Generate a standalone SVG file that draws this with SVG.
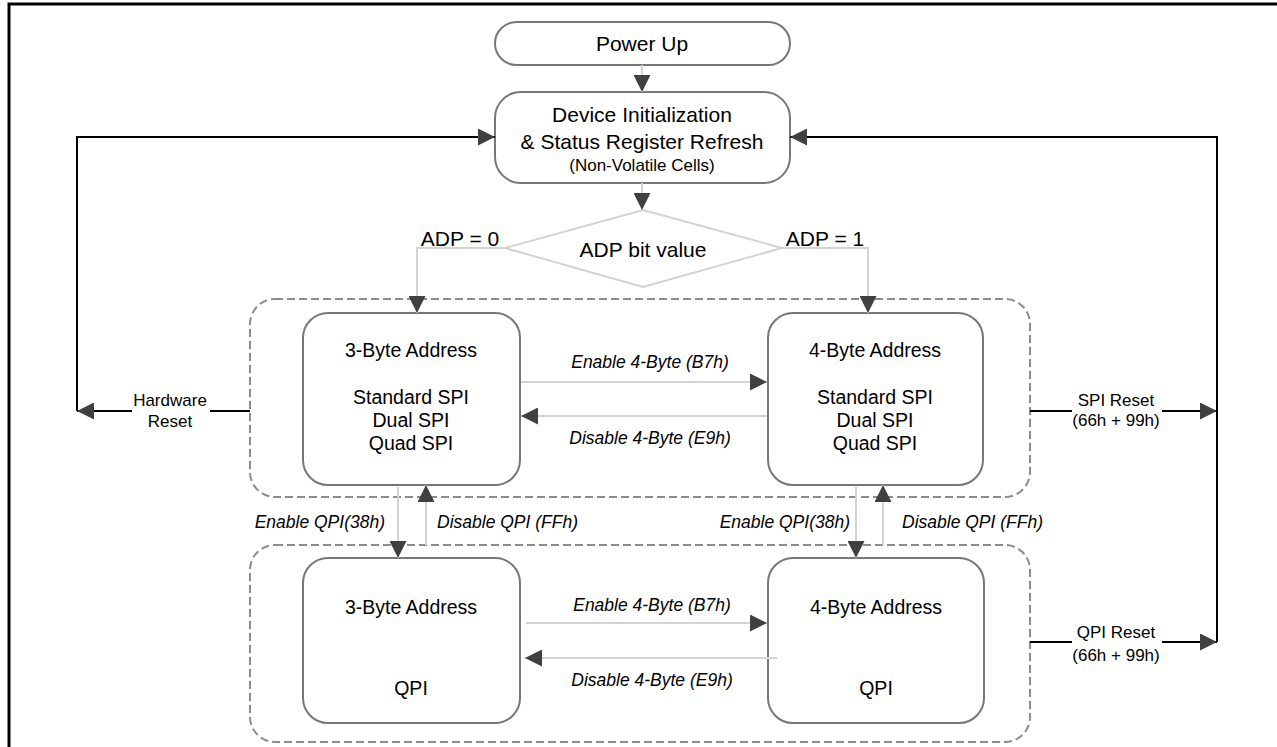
<svg xmlns="http://www.w3.org/2000/svg" width="1277" height="747" viewBox="0 0 1277 747">
<style>
text{font-family:"Liberation Sans",Arial,sans-serif;fill:#000;text-anchor:middle}
.t21{font-size:21px}
.tb{font-size:19.5px}
.t17{font-size:17px}
.it{font-size:17.5px;font-style:italic}
.box{fill:#fff;stroke:#777;stroke-width:2}
.dash{fill:none;stroke:#8c8c8c;stroke-width:2;stroke-dasharray:8 4}
.gl{fill:none;stroke:#d3d3d3;stroke-width:2}
.bl{fill:none;stroke:#000;stroke-width:2}
</style>
<defs>
<marker id="ah" markerUnits="userSpaceOnUse" viewBox="0 0 16 16" refX="16" refY="8" markerWidth="17" markerHeight="17" orient="auto">
<path d="M0,0 L16,8 L0,16 z" fill="#404040"/>
</marker>
</defs>
<rect width="1277" height="747" fill="#fff"/>
<path d="M9,747 V4 H1277" fill="none" stroke="#000" stroke-width="3"/>
<g id="container-spi"><rect class="dash" x="250" y="299" width="780" height="198" rx="25"/></g>
<g id="container-qpi"><rect class="dash" x="250" y="545" width="780" height="197" rx="25"/></g>
<g id="power-up">
<rect class="box" x="495" y="22" width="295" height="43" rx="21.5"/>
<text class="t21" x="642" y="51">Power Up</text>
</g>
<g id="device-init">
<rect class="box" x="495" y="92" width="295" height="91" rx="26"/>
<text class="t21" x="642" y="122">Device Initialization</text>
<text class="t21" x="642" y="149">&amp; Status Register Refresh</text>
<text class="t17" x="642" y="171">(Non-Volatile Cells)</text>
</g>
<g id="adp-decision">
<polygon points="643,210 782,248 643,287 505,248" fill="#fff" stroke="#d3d3d3" stroke-width="2"/>
<text class="t21" x="643" y="257">ADP bit value</text>
</g>
<g id="spi3">
<rect class="box" x="303" y="313" width="217" height="172" rx="25"/>
<text class="tb" x="411" y="357">3-Byte Address</text>
<text class="tb" x="411" y="404">Standard SPI</text>
<text class="tb" x="411" y="427">Dual SPI</text>
<text class="tb" x="411" y="450">Quad SPI</text>
</g>
<g id="spi4">
<rect class="box" x="768" y="313" width="215" height="172" rx="25"/>
<text class="tb" x="875" y="357">4-Byte Address</text>
<text class="tb" x="875" y="404">Standard SPI</text>
<text class="tb" x="875" y="427">Dual SPI</text>
<text class="tb" x="875" y="450">Quad SPI</text>
</g>
<g id="qpi3">
<rect class="box" x="303" y="558" width="217" height="165" rx="25"/>
<text class="tb" x="411" y="614">3-Byte Address</text>
<text class="tb" x="411" y="695">QPI</text>
</g>
<g id="qpi4">
<rect class="box" x="768" y="558" width="216" height="165" rx="25"/>
<text class="tb" x="876" y="614">4-Byte Address</text>
<text class="tb" x="876" y="695">QPI</text>
</g>
<g id="connectors">
<path class="gl" d="M642,65 V92" marker-end="url(#ah)"/>
<path class="gl" d="M642,183 V210" marker-end="url(#ah)"/>
<path class="gl" d="M505,248 H417 V313" marker-end="url(#ah)"/>
<path class="gl" d="M782,248 H868 V313" marker-end="url(#ah)"/>
<text class="t21" x="460" y="246">ADP = 0</text>
<text class="t21" x="825" y="246">ADP = 1</text>
<path class="gl" d="M521,382 H767" marker-end="url(#ah)"/>
<text class="it" x="650" y="368">Enable 4-Byte (B7h)</text>
<path class="gl" d="M767,416 H521" marker-end="url(#ah)"/>
<text class="it" x="650" y="444">Disable 4-Byte (E9h)</text>
<path class="gl" d="M526,623 H767" marker-end="url(#ah)"/>
<text class="it" x="652" y="611">Enable 4-Byte (B7h)</text>
<path class="gl" d="M777,658 H525" marker-end="url(#ah)"/>
<text class="it" x="652" y="686">Disable 4-Byte (E9h)</text>
<path class="gl" d="M398,487 V558" marker-end="url(#ah)"/>
<path class="gl" d="M426,545 V485" marker-end="url(#ah)"/>
<text class="it" x="385" y="528" style="text-anchor:end">Enable QPI(38h)</text>
<text class="it" x="437" y="528" style="text-anchor:start">Disable QPI (FFh)</text>
<path class="gl" d="M856,487 V558" marker-end="url(#ah)"/>
<path class="gl" d="M883,545 V485" marker-end="url(#ah)"/>
<text class="it" x="850" y="528" style="text-anchor:end">Enable QPI(38h)</text>
<text class="it" x="902" y="528" style="text-anchor:start">Disable QPI (FFh)</text>
<path class="bl" d="M250,411 H210"/>
<path class="bl" d="M132,411 H77" marker-end="url(#ah)"/>
<path class="bl" d="M77,411 V137 H495" marker-end="url(#ah)"/>
<text class="t17" x="170" y="406">Hardware</text>
<text class="t17" x="170" y="427">Reset</text>
<path class="bl" d="M1030,411 H1072"/>
<path class="bl" d="M1162,411 H1217" marker-end="url(#ah)"/>
<text class="t17" x="1116" y="406">SPI Reset</text>
<text class="t17" x="1116" y="426">(66h + 99h)</text>
<path class="bl" d="M1030,642 H1072"/>
<path class="bl" d="M1162,642 H1217" marker-end="url(#ah)"/>
<text class="t17" x="1116" y="638">QPI Reset</text>
<text class="t17" x="1116" y="661">(66h + 99h)</text>
<path class="bl" d="M1217,642 V137 H790" marker-end="url(#ah)"/>
</g>
</svg>
